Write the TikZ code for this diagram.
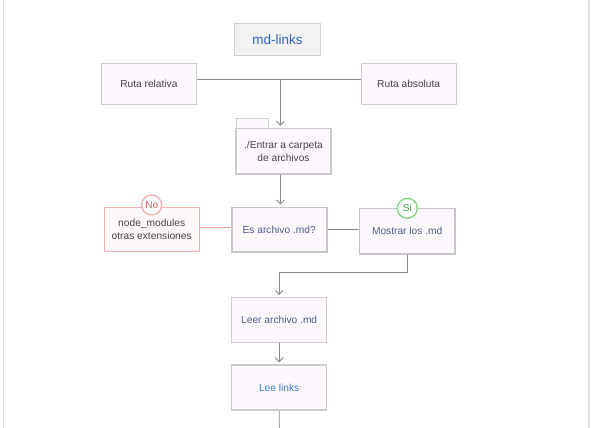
\documentclass[tikz,border=0pt]{standalone}
\usepackage{fontspec}
\setmainfont{Liberation Sans}
\usetikzlibrary{arrows.meta}
\definecolor{boxfill}{HTML}{FDF8FD}
\definecolor{boxdraw}{HTML}{CCCCCC}
\definecolor{linec}{HTML}{8A8A8A}
\definecolor{txtdark}{HTML}{444444}
\definecolor{txtslate}{HTML}{4A5C8C}
\definecolor{txtblue}{HTML}{3A7FD0}
\definecolor{titleblue}{HTML}{2F66BE}
\definecolor{pinkdraw}{HTML}{F4B0B0}
\definecolor{pinkline}{HTML}{EE9A9A}
\definecolor{pinkfill}{HTML}{FFF8FA}
\definecolor{notext}{HTML}{E05A5A}
\definecolor{sidraw}{HTML}{7ED67E}
\definecolor{sitext}{HTML}{3CA03C}
\tikzset{
  box/.style={draw=boxdraw, line width=1.4pt, fill=boxfill, inner sep=0pt, align=center,
    font=\fontsize{10.2}{12.5}\selectfont, text=txtdark},
  nobox/.style={box, draw=pinkdraw, fill=pinkfill},
  conn/.style={draw=linec, line width=0.9pt},
  arr/.style={conn, -{Straight Barb[length=4pt,width=8pt]}, shorten >=2pt},
  badge/.style={circle, draw, line width=1.3pt, fill=white, minimum size=20pt, inner sep=0pt,
    font=\fontsize{10}{12}\selectfont}
}
\begin{document}
\begin{tikzpicture}[x=1pt,y=-1pt]
\useasboundingbox (0,0) rectangle (594,428);
\fill[white] (0,0) rectangle (594,428);
\draw[draw=black!12, line width=1.5pt] (3.5,0) -- (3.5,428);
\draw[draw=black!12, line width=1.5pt] (589,0) -- (589,428);

\node[box, fill=black!5, draw=black!18, minimum width=86pt, minimum height=32pt,
  font=\fontsize{13.5}{16}\selectfont, text=titleblue] (md) at (277.5,39.5) {md-links};
\node[box, minimum width=95pt, minimum height=41pt] (rel) at (148.9,83.8) {Ruta relativa};
\node[box, minimum width=95pt, minimum height=41pt] (abs) at (408.7,83.8) {Ruta absoluta};

\node[box, line width=1pt, minimum width=32.6pt, minimum height=10pt, anchor=north west] (tab) at (235.7,118.3) {};
\node[box, minimum width=95pt, minimum height=45.5pt] (ent) at (283.5,151.2) {./Entrar a carpeta\\de archivos};

\node[box, draw=black!22, line width=1.6pt, minimum width=95pt, minimum height=44.4pt, text=txtslate] (es) at (279.2,229.5) {Es archivo .md?};
\node[nobox, minimum width=95pt, minimum height=44.4pt] (nm) at (151.7,229.5) {node\_modules\\otras extensiones};
\node[box, draw=black!22, line width=1.6pt, minimum width=95.5pt, minimum height=45.5pt, text=txtslate] (mo) at (407.2,231.2) {Mostrar los .md};

\node[box, minimum width=95pt, minimum height=45pt, text=txtslate] (leer) at (279.2,320.2) {Leer archivo .md};
\node[box, minimum width=95pt, minimum height=45pt, text=txtblue] (lee) at (279.2,387.5) {Lee links};

\coordinate (j) at (280.3,79);
\coordinate (k) at (407.3,272.7);
\coordinate (bot) at (279.3,428);

\draw[conn] (rel.east |- j) -- (abs.west |- j);
\draw[arr] (j) -- (ent.north -| j);
\draw[arr] (ent.south -| j) -- (es.north -| j);
\draw[conn, draw=pinkline] (nm.east |- 0,227.7) -- (es.west |- 0,227.7);
\draw[conn] (es.east |- 0,229) -- (mo.west |- 0,229);
\draw[arr] (mo.south -| k) -- (k) -| (leer.north);
\draw[arr] (leer.south) -- (lee.north);
\draw[conn] (lee.south) -- (bot);

\node[badge, draw=pinkdraw, text=notext] (no) at (151.7,205) {No};
\node[badge, draw=sidraw, text=sitext] (si) at (407.3,208.3) {Si};
\end{tikzpicture}
\end{document}
